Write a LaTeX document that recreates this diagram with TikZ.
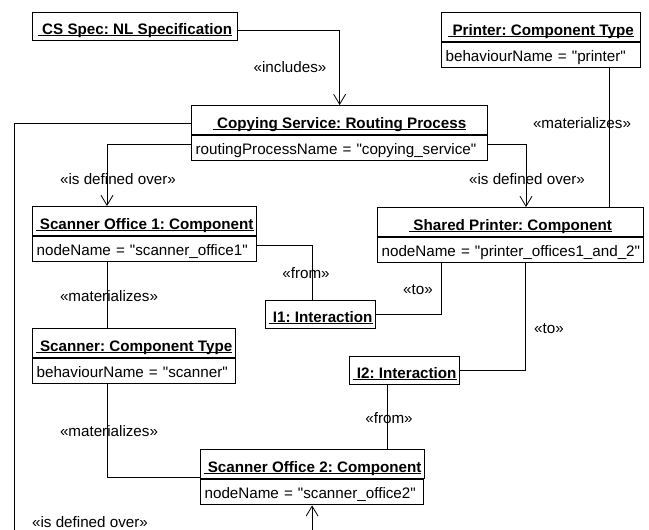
\documentclass[tikz,border=0pt]{standalone}
\usepackage{fontspec}
\setmainfont{Liberation Sans}[Ligatures=TeXOff]
\usetikzlibrary{arrows.meta}
\frenchspacing

\newcommand{\objname}[1]{\setbox0=\hbox{\ #1}\rlap{\rule[-1.3pt]{\wd0}{0.9pt}}\box0}

\begin{document}
\begin{tikzpicture}[x=1pt, y=-1pt,
        font=\fontsize{15.2}{18}\selectfont,
        objtitle/.style={draw, line width=1.2pt, anchor=north west, inner xsep=3pt, inner ysep=0pt,
            text height=23pt, text depth=6pt, font=\fontsize{15.2}{18}\selectfont\bfseries},
        objonly/.style={objtitle, text height=22pt},
        objattr/.style={draw, line width=1.2pt, anchor=north west, inner xsep=4pt, inner ysep=0pt,
            text height=19pt, text depth=6pt, text width=#1},
        link/.style={line width=0.8pt},
        nav/.style={link, -{Straight Barb[length=10pt, width=12pt]}}]
    \clip (0,0) rectangle (649,530);

    \node[objonly, minimum width=205pt] (spec) at (32,12) {\objname{CS Spec: NL Specification}};
    \node[objtitle, minimum width=199pt] (print) at (441,12) {\objname{Printer: Component Type}};
    \node[objattr=191pt] (printa) at (print.south west) {behaviourName = "printer"};
    \node[objtitle, minimum width=296pt] (cs) at (191,105) {\objname{Copying Service: Routing Process}};
    \node[objattr=288pt] (csa) at (cs.south west) {routingProcessName = "copying\_service"};
    \node[objtitle, minimum width=224pt] (so1) at (32,206) {\objname{Scanner Office 1: Component}};
    \node[objattr=216pt] (so1a) at (so1.south west) {nodeName = "scanner\_office1"};
    \node[objtitle, minimum width=266pt] (sp) at (377,207) {\objname{Shared Printer: Component}};
    \node[objattr=258pt] (spa) at (sp.south west) {\mbox{nodeName = "printer\_offices1\_and\_2"}};
    \node[objonly, minimum width=110pt] (i1) at (265,300) {\objname{I1: Interaction}};
    \node[objtitle, minimum width=203pt] (scan) at (32,328) {\objname{Scanner: Component Type}};
    \node[objattr=195pt] (scana) at (scan.south west) {behaviourName = "scanner"};
    \node[objonly, minimum width=110pt] (i2) at (349,356) {\objname{I2: Interaction}};
    \node[objtitle, minimum width=223pt] (so2) at (200,449) {\objname{Scanner Office 2: Component}};
    \node[objattr=215pt] (so2a) at (so2.south west) {nodeName = "scanner\_office2"};

    % links
    \coordinate (low) at (14,560);
    \draw[nav] ([yshift=-4pt]spec.east) -| (cs.north);
    \draw[nav] ([yshift=-3.5pt]cs.west) -| (low) -| (so2a.south);
    \draw[nav] ([yshift=4pt]csa.west) -| ([xshift=75pt]so1.north west);
    \draw[nav] ([yshift=4pt]csa.east) -| ([xshift=149pt]sp.north west);
    \draw[link] ([xshift=168pt]printa.south west) -- ([xshift=168pt]printa.south west |- sp.north);
    \draw[link] ([xshift=75pt]so1a.south west) -- ([xshift=75pt]scan.north west);
    \draw[link] ([xshift=75pt]scana.south west) |- ([yshift=2pt]so2.south west);
    \draw[link] ([yshift=4pt]so1a.east) -| ([xshift=47pt]i1.north west);
    \draw[link] (i1.east) -| ([xshift=64pt]spa.south west);
    \draw[link] ([xshift=148pt]spa.south west) |- (i2.east);
    \draw[link] ([xshift=38pt]i2.south west) -- ([xshift=38pt]i2.south west |- so2.north);

    \node (lincl) at (290,67) {«includes»};
    \node (ldef1) at (118,179) {«is defined over»};
    \node (ldef2) at (527,179) {«is defined over»};
    \node (ldef3) at (90,522) {«is defined over»};
    \node (lmat1) at (582,123) {«materializes»};
    \node (lmat2) at (109,296) {«materializes»};
    \node (lmat3) at (109,431) {«materializes»};
    \node (lfrom1) at (306,273) {«from»};
    \node (lfrom2) at (389,418) {«from»};
    \node (lto1) at (418,290) {«to»};
    \node (lto2) at (549,329) {«to»};
\end{tikzpicture}
\end{document}
